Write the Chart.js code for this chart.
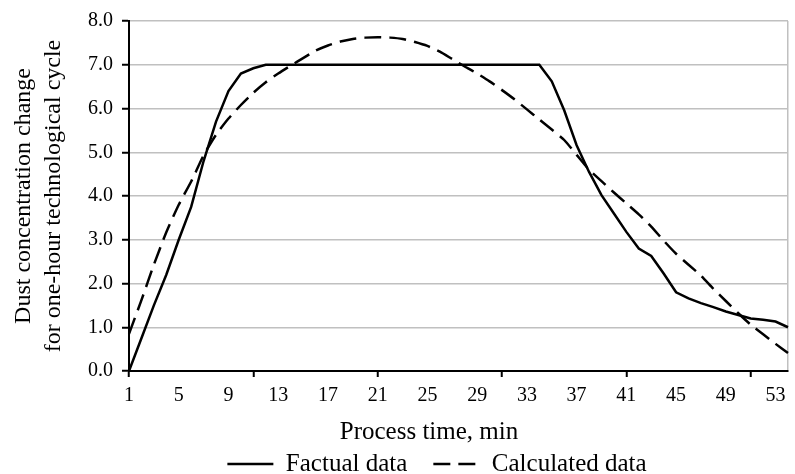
<!DOCTYPE html>
<html><head><meta charset="utf-8">
<script src="https://cdn.jsdelivr.net/npm/chart.js@4"></script>
<style>html,body{margin:0;padding:0;background:#fff}#wrap{width:795px;height:474px;position:relative}</style>
</head><body><div id="wrap"><canvas id="c"></canvas></div>
<script>
const categories = [1,2,3,4,5,6,7,8,9,10,11,12,13,14,15,16,17,18,19,20,21,22,23,24,25,26,27,28,29,30,31,32,33,34,35,36,37,38,39,40,41,42,43,44,45,46,47,48,49,50,51,52,53,54];
const factual = [0.0,0.75,1.5,2.2,3.0,3.75,4.8,5.7,6.4,6.8,6.92,7.0,7.0,7.0,7.0,7.0,7.0,7.0,7.0,7.0,7.0,7.0,7.0,7.0,7.0,7.0,7.0,7.0,7.0,7.0,7.0,7.0,7.0,7.0,6.62,5.96,5.16,4.55,4.02,3.6,3.18,2.8,2.63,2.23,1.8,1.66,1.55,1.46,1.36,1.28,1.2,1.17,1.13,1.0];
const calculated = [0.85,1.62,2.43,3.17,3.8,4.33,4.93,5.4,5.77,6.08,6.36,6.6,6.8,6.98,7.15,7.32,7.44,7.53,7.59,7.62,7.63,7.62,7.59,7.52,7.43,7.3,7.13,6.96,6.8,6.62,6.42,6.21,5.98,5.75,5.52,5.28,4.94,4.6,4.34,4.08,3.83,3.58,3.3,2.98,2.68,2.43,2.18,1.88,1.6,1.32,1.06,0.84,0.62,0.41];
const yMin = 0, yMax = 8, yStep = 1;
const xTitle = 'Process time, min';
const yTitle = ['Dust concentration change', 'for one-hour technological cycle'];

Chart.defaults.font.family = "'Liberation Serif', 'Times New Roman', serif";
Chart.defaults.color = '#000';

// shift the bottom title and legend horizontally to where they sit in the reference
const boxShift = {
  id: 'boxShift',
  afterLayout(chart) {
    const t = chart.titleBlock, l = chart.legend;
    if (t) { const dx = 429 - (t.left + t.right) / 2; t.left += dx; t.right += dx; }
    if (l) { const dx = 437 - (l.left + l.right) / 2; l.left += dx; l.right += dx; }
  }
};

new Chart(document.getElementById('c'), {
  type: 'line',
  data: {
    labels: categories,
    datasets: [
      {label: 'Factual data', data: factual, borderColor: '#000', backgroundColor: 'rgba(0,0,0,0)', borderWidth: 2.5, pointRadius: 0, tension: 0},
      {label: 'Calculated data', data: calculated, borderColor: '#000', backgroundColor: 'rgba(0,0,0,0)', borderWidth: 2.5, borderDash: [17, 8], pointRadius: 0, tension: 0.2}
    ]
  },
  plugins: [boxShift],
  options: {
    responsive: true, maintainAspectRatio: false, animation: false,
    layout: {padding: {top: 9, right: 2, left: 0, bottom: -12.5}},
    plugins: {
      title: {display: true, text: xTitle, position: 'bottom', weight: 500, color: '#000',
        font: {size: 25, weight: 'normal'}, padding: {top: 2, bottom: -21.5}},
      legend: {position: 'bottom', labels: {boxWidth: 46, boxHeight: 0, font: {size: 25}, padding: 26, color: '#000'}},
      tooltip: {enabled: false}
    },
    scales: {
      x: {
        type: 'category', offset: false,
        border: {color: '#000', width: 2},
        grid: {drawOnChartArea: true, lineWidth: 1.5, tickLength: 6, tickWidth: 2,
          color: c => c.index === categories.length - 1 ? '#c0c0c0' : 'rgba(0,0,0,0)',
          tickColor: c => c.index % 10 === 0 ? '#000' : 'rgba(0,0,0,0)'},
        ticks: {autoSkip: false, maxRotation: 0, minRotation: 0, font: {size: 20}, padding: 7,
          callback: (v, i) => i % 4 === 0 ? String(categories[i]) : ''}
      },
      y: {
        min: yMin, max: yMax,
        border: {color: '#000', width: 2},
        grid: {color: '#c0c0c0', lineWidth: 1.5, tickColor: '#000', tickLength: 7, tickWidth: 2},
        ticks: {stepSize: yStep, font: {size: 20}, padding: 9, callback: v => Number(v).toFixed(1)},
        title: {display: true, text: yTitle, font: {size: 24, lineHeight: 1.25}, padding: {top: 9, bottom: 0}},
        afterFit: s => { s.width = 129; }
      }
    }
  }
});
</script></body></html>
